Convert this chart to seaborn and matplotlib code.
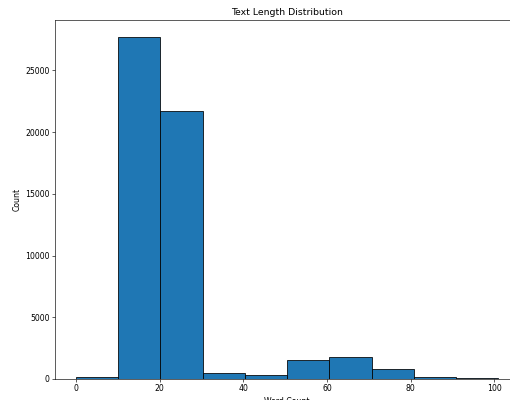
import numpy as np
import pandas as pd
import matplotlib
matplotlib.use('Agg')
import matplotlib.pyplot as plt
import seaborn as sns

# Histogram of word counts, bin counts
word_min, word_max = 0, 101
n_bins = 10
bin_counts = [130, 27700, 21700, 460, 320, 1540, 1780, 790, 130, 50]

bin_edges = np.linspace(word_min, word_max, n_bins + 1)
bin_centers = (bin_edges[:-1] + bin_edges[1:]) / 2
df = pd.DataFrame({'word_count': bin_centers, 'n': bin_counts})

dpi = 56
fig = plt.figure(figsize=(510 / dpi, 400 / dpi), dpi=dpi)
ax = fig.add_axes([0.1076, 0.0525, 0.9112, 0.8975])

sns.histplot(data=df, x='word_count', weights='n', bins=n_bins,
             binrange=(word_min, word_max),
             color='#1f77b4', edgecolor='black', alpha=1, linewidth=1, ax=ax)

ax.set_title('Text Length Distribution')
ax.set_xlabel('Word Count')
ax.set_ylabel('Count')
ax.set_xticks([0, 20, 40, 60, 80, 100])

fig.savefig('out.png', dpi=dpi)
